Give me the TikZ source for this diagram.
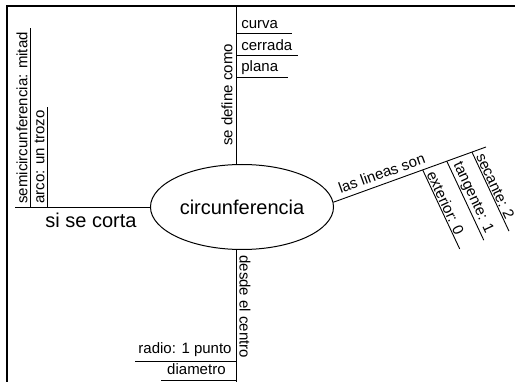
\documentclass[tikz,border=0pt]{standalone}
\usepackage{fontspec}
\setmainfont{Liberation Sans}
\usetikzlibrary{shapes.geometric,calc}
\begin{document}
\begin{tikzpicture}[x=1pt,y=-1pt,
  ln/.style={line width=0.9pt},
  itemtxt/.style={font=\fontsize{15}{17}\selectfont, inner sep=1.2pt},
  bigtxt/.style={font=\fontsize{20}{23}\selectfont, inner sep=1pt},
  frameline/.style={line width=1.8pt}]
\useasboundingbox (0,0) rectangle (515,382);
% frame
\draw[frameline] (515,6) -- (7,6) -- (7,382);
% central node
\node[ellipse, draw, line width=1pt, minimum width=183pt, minimum height=85pt, inner sep=0pt,
      font=\fontsize{20}{23}\selectfont] (c) at (242,207) {circunferencia};
% top branch
\coordinate (t0) at (236,7);
\draw[ln] (t0) -- (t0 |- c.north);
\node[itemtxt, rotate=90, anchor=south] (sdc) at (234,95) {se define como};
\node[itemtxt, anchor=base west] (curva) at (240,29) {curva};
\node[itemtxt, anchor=base west] (cerrada) at (240,51) {cerrada};
\node[itemtxt, anchor=base west] (plana) at (240,72) {plana};
\draw[ln] (236,33) -- (292,33);
\draw[ln] (236,55) -- (298,55);
\draw[ln] (236,77) -- (288,77);
% left branch
\coordinate (l0) at (15,207);
\draw[ln] (l0) -- (c.west);
\node[bigtxt, anchor=base] (corta) at (91,228) {si se corta};
\coordinate (semi0) at (30,207);
\coordinate (arco0) at (47,207);
\draw[ln] (semi0) -- (30,28);
\draw[ln] (arco0) -- (47,107);
\node[itemtxt, rotate=90, anchor=south west] (semi) at (29,205) {semicircunferencia: mitad};
\node[itemtxt, rotate=90, anchor=south west] (arco) at (46,205) {arco: un trozo};
% bottom branch
\coordinate (b0) at (236,382);
\draw[ln] (b0 |- c.south) -- (b0);
\node[itemtxt, rotate=-90, anchor=south west] (desde) at (238,254) {desde el centro};
\node[itemtxt, anchor=base east] (radio) at (233,354) {radio: 1 punto};
\node[itemtxt, anchor=base east] (diam) at (227,375) {diametro};
\draw[ln] (135,361) -- (236,361);
\draw[ln] (161,380) -- (236,380);
% right branch
\coordinate (r1) at (486,147);
\draw[ln] (c.3) -- (r1);
\node[itemtxt, rotate=19.9, anchor=south, inner ysep=5pt] (lineas) at ($(c.3)!0.34!(r1)$) {las lineas son};
\coordinate (e1) at ($(c.3)!0.585!(r1)$);
\coordinate (e2) at ($(c.3)!0.743!(r1)$);
\coordinate (e3) at ($(c.3)!0.908!(r1)$);
\draw[ln] (e1) -- ++(37,79);
\draw[ln] (e2) -- ++(37,79);
\draw[ln] (e3) -- ++(37,79);
\node[itemtxt, rotate=-65, anchor=south west] (ext) at ($(e1)+(1.8,3.8)$) {exterior: 0};
\node[itemtxt, rotate=-65, anchor=south west] (tan) at ($(e2)+(1.8,3.8)$) {tangente: 1};
\node[itemtxt, rotate=-65, anchor=south west] (sec) at ($(e3)+(1.8,3.8)$) {secante: 2};
\end{tikzpicture}
\end{document}
